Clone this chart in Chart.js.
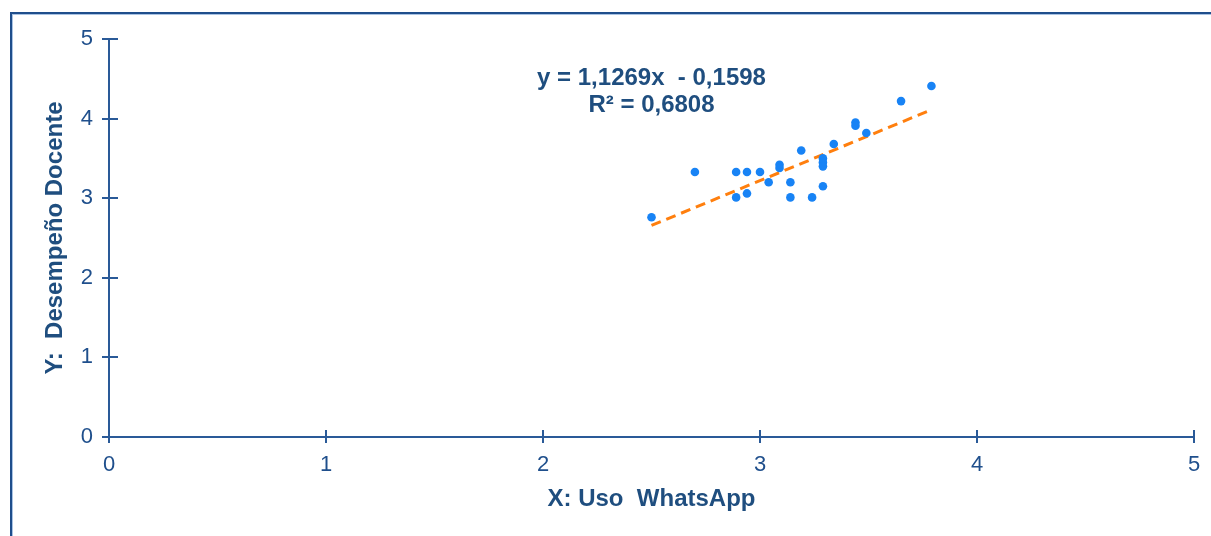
<!DOCTYPE html>
<html>
<head>
<meta charset="utf-8">
<script src="https://cdn.jsdelivr.net/npm/chart.js@4.4.1/dist/chart.umd.min.js"></script>
<style>
  html, body { margin: 0; padding: 0; background: #ffffff; overflow: hidden; }
  #wrap { position: relative; width: 1211px; height: 536px; }
  #frame { position: absolute; left: 10px; top: 12px; width: 1300px; height: 600px;
           border-top: 2px solid #1f4e8c; border-left: 2px solid #1f4e8c;
           box-shadow: inset 1px 1px 0 #a9c3e3; }
  canvas { position: absolute; left: 0; top: 0; }
</style>
</head>
<body>
<div id="wrap">
  <div id="frame"></div>
  <canvas id="c" width="1211" height="536"></canvas>
</div>
<script>
// Data
const usoWhatsApp = [2.50, 2.70, 2.89, 2.89, 2.94, 2.94, 3.00, 3.04, 3.09, 3.09, 3.14, 3.14,
                     3.19, 3.24, 3.29, 3.29, 3.29, 3.29, 3.34, 3.44, 3.44, 3.49, 3.65, 3.79];
const desempenoDocente = [2.76, 3.33, 3.33, 3.01, 3.33, 3.06, 3.33, 3.20, 3.42, 3.38, 3.20, 3.01,
                          3.60, 3.01, 3.50, 3.45, 3.40, 3.15, 3.68, 3.95, 3.91, 3.82, 4.22, 4.41];
const trendSlope = 1.1269;
const trendIntercept = -0.1598;
const trendXRange = [2.50, 3.79];
const axisTicks = [0, 1, 2, 3, 4, 5];
const equationLines = ["y = 1,1269x  - 0,1598", "R² = 0,6808"];
const xTitle = "X: Uso  WhatsApp";
const yTitle = "Y:  Desempeño Docente";

const points = usoWhatsApp.map((x, i) => ({ x: x, y: desempenoDocente[i] }));
const trend = trendXRange.map(x => ({ x: x, y: trendSlope * x + trendIntercept }));

const axisColor = '#2a5a98';
const tickColor = '#1f4f8c';
const titleColor = '#1f4e7f';
const FONT = '"Liberation Sans", Arial, sans-serif';

const innerTicks = {
  id: 'innerTicks',
  afterDraw(chart) {
    const ctx = chart.ctx;
    const xs = chart.scales.x, ys = chart.scales.y;
    ctx.save();
    ctx.strokeStyle = axisColor;
    ctx.lineWidth = 2;
    axisTicks.forEach(v => {
      const px = Math.round(xs.getPixelForValue(v));
      ctx.beginPath(); ctx.moveTo(px, ys.bottom); ctx.lineTo(px, ys.bottom - 7); ctx.stroke();
      const py = Math.round(ys.getPixelForValue(v));
      ctx.beginPath(); ctx.moveTo(xs.left, py); ctx.lineTo(xs.left + 9, py); ctx.stroke();
    });
    // equation label
    const cx = (chart.chartArea.left + chart.chartArea.right) / 2;
    ctx.fillStyle = titleColor;
    ctx.font = 'bold 24px ' + FONT;
    ctx.textAlign = 'center';
    ctx.textBaseline = 'middle';
    ctx.fillText(equationLines[0], cx, ys.getPixelForValue(4.5));
    ctx.fillText(equationLines[1], cx, ys.getPixelForValue(4.16));
    ctx.restore();
  }
};

new Chart(document.getElementById('c'), {
  type: 'scatter',
  data: {
    datasets: [
      {
        type: 'line',
        data: trend,
        borderColor: '#ff7f0e',
        borderWidth: 3,
        borderDash: [10, 6],
        pointRadius: 0,
        fill: false,
        order: 2
      },
      {
        data: points,
        backgroundColor: '#1883f5',
        borderColor: '#1883f5',
        pointRadius: 4.3,
        pointBorderWidth: 0,
        order: 1
      }
    ]
  },
  options: {
    responsive: false,
    animation: false,
    events: [],
    layout: { padding: { left: 41, top: 39, right: 17, bottom: 22 } },
    plugins: { legend: { display: false }, tooltip: { enabled: false } },
    scales: {
      x: {
        type: 'linear', min: 0, max: 5,
        afterBuildTicks: s => { s.ticks = axisTicks.map(v => ({ value: v })); },
        afterFit: s => { s.height = 77; },
        border: { display: true, color: axisColor, width: 2 },
        grid: { drawOnChartArea: false, drawTicks: true, tickLength: 6, color: axisColor, lineWidth: 2 },
        ticks: { color: tickColor, font: { family: FONT, size: 22 }, padding: 9 },
        title: { display: true, text: xTitle, color: titleColor, font: { family: FONT, size: 24, weight: 'bold' }, padding: 0 }
      },
      y: {
        type: 'linear', min: 0, max: 5,
        afterBuildTicks: s => { s.ticks = axisTicks.map(v => ({ value: v })); },
        afterFit: s => { s.width = 68; },
        border: { display: true, color: axisColor, width: 2 },
        grid: { drawOnChartArea: false, drawTicks: true, tickLength: 7, color: axisColor, lineWidth: 2 },
        ticks: { color: tickColor, font: { family: FONT, size: 22 }, padding: 9 },
        title: { display: true, text: yTitle, color: titleColor, font: { family: FONT, size: 24, weight: 'bold' }, padding: 0 }
      }
    }
  },
  plugins: [innerTicks]
});
</script>
</body>
</html>
